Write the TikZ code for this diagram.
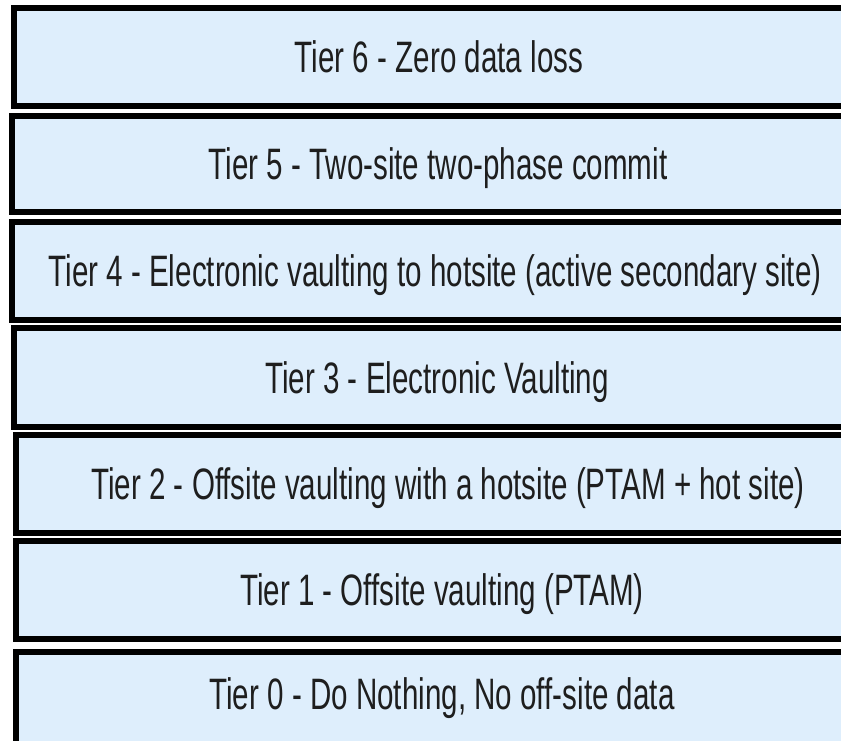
\documentclass[tikz,border=0pt]{standalone}
\usepackage{fontspec}
\newfontfamily\tierfont[FakeStretch=0.672]{Liberation Sans}
\definecolor{tierfill}{RGB}{222,238,252}
\definecolor{tiertext}{RGB}{30,30,30}
\begin{document}
\begin{tikzpicture}[x=1pt,y=-1pt,
  tierbox/.style={draw=black, line width=6pt, fill=tierfill, inner sep=0pt,
    text height=31.5pt, text depth=0pt, text=tiertext,
    font=\tierfont\fontsize{44}{48}\selectfont}]
\useasboundingbox (0,0) rectangle (841,740);
\clip (0,0) rectangle (841,740);
\node[tierbox, minimum width=850pt, minimum height=98pt] (t6) at (439,57)    {Tier 6 - Zero data loss};
\node[tierbox, minimum width=852pt, minimum height=96pt] (t5) at (438,164)   {Tier 5 - Two-site two-phase commit};
\node[tierbox, minimum width=846pt, minimum height=98pt] (t4) at (435,271)   {Tier 4 - Electronic vaulting to hotsite (active secondary site)};
\node[tierbox, minimum width=846pt, minimum height=99pt] (t3) at (437,377.5) {Tier 3 - Electronic Vaulting};
\node[tierbox, minimum width=864pt, minimum height=98pt] (t2) at (448,484)   {Tier 2 - Offsite vaulting with a hotsite (PTAM + hot site)};
\node[tierbox, minimum width=852pt, minimum height=98pt] (t1) at (442,590)   {Tier 1 - Offsite vaulting (PTAM)};
% the lowest box runs past the bottom edge
\node[tierbox, minimum width=852pt, minimum height=120pt, anchor=north] (t0) at (442,649) {};
\node[text height=31.5pt, text depth=0pt, inner sep=0pt, text=tiertext,
      font=\tierfont\fontsize{44}{48}\selectfont] (t0label) at (442,694) {Tier 0 - Do Nothing, No off-site data};
\end{tikzpicture}
\end{document}
